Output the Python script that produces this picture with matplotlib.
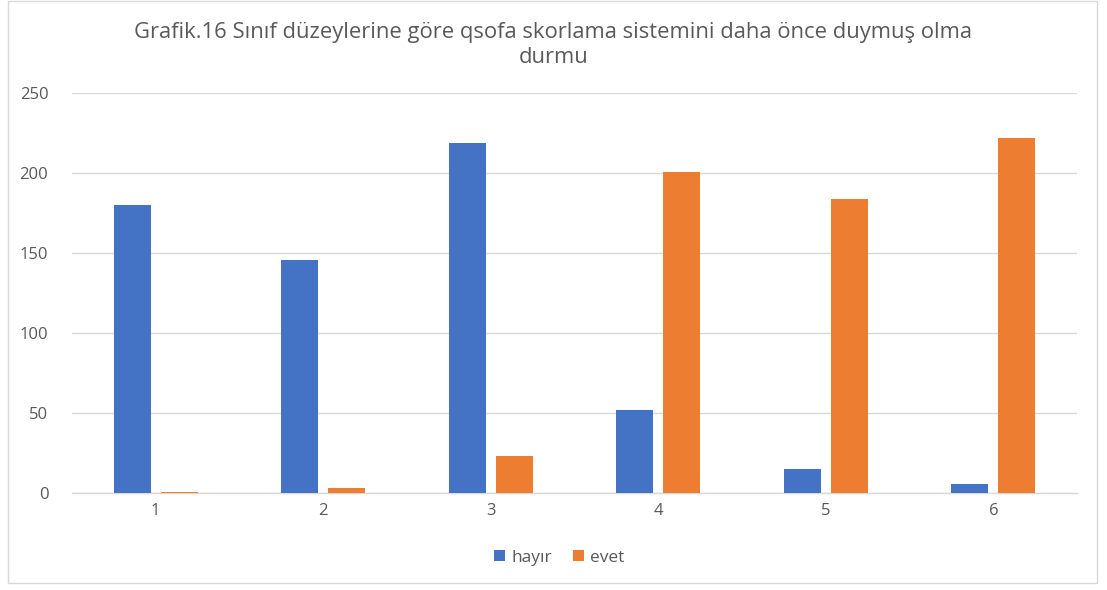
import matplotlib
matplotlib.use("Agg")
import matplotlib.pyplot as plt
import numpy as np
from matplotlib.patches import Rectangle

categories = ["1", "2", "3", "4", "5", "6"]
hayir = [180, 146, 219, 52, 15, 6]
evet = [1, 3, 23, 201, 184, 222]
yticks = [0, 50, 100, 150, 200, 250]
title = "Grafik.16 Sınıf düzeylerine göre qsofa skorlama sistemini daha önce duymuş olma\ndurmu"

plt.rcParams['font.family'] = ['Open Sans', 'DejaVu Sans']
fig = plt.figure(figsize=(11.07, 5.90), dpi=100)
ax = fig.add_axes([0.065, 0.164, 0.908, 0.678])

x = np.arange(len(categories))
w = 0.22
off = 0.14
ax.bar(x - off, hayir, w, color="#4472C4", label="hayır", zorder=3)
ax.bar(x + off, evet, w, color="#ED7D31", label="evet", zorder=3)

ax.set_xlim(-0.5, len(categories) - 0.5)
ax.set_ylim(0, 250)
ax.set_yticks(yticks)
ax.set_xticks(x)
ax.set_xticklabels(categories)
ax.grid(axis="y", color="#D9D9D9", linewidth=1, zorder=0)
for s in ["top", "right", "left"]:
    ax.spines[s].set_visible(False)
ax.spines["bottom"].set_color("#D9D9D9")
ax.spines["bottom"].set_linewidth(1)
ax.tick_params(axis="both", length=0, colors="#595959", labelsize=12)
ax.tick_params(axis="y", pad=17)
ax.tick_params(axis="x", pad=7)

fig.text(0.5, 0.924, title, ha="center", va="center", fontsize=15.8, color="#595959",
         linespacing=1.25)

leg = fig.legend(loc="center", bbox_to_anchor=(0.505, 0.055), ncol=2, frameon=False,
                 fontsize=12.5, handlelength=0.65, handleheight=0.65, handletextpad=0.35,
                 columnspacing=1.2)
for t in leg.get_texts():
    t.set_color("#595959")

fig.patches.append(Rectangle((0.007, 0.012), 0.984, 0.986, transform=fig.transFigure,
                             fill=False, edgecolor="#D9D9D9", linewidth=1))

fig.savefig("out.png", dpi=100, facecolor="white")
